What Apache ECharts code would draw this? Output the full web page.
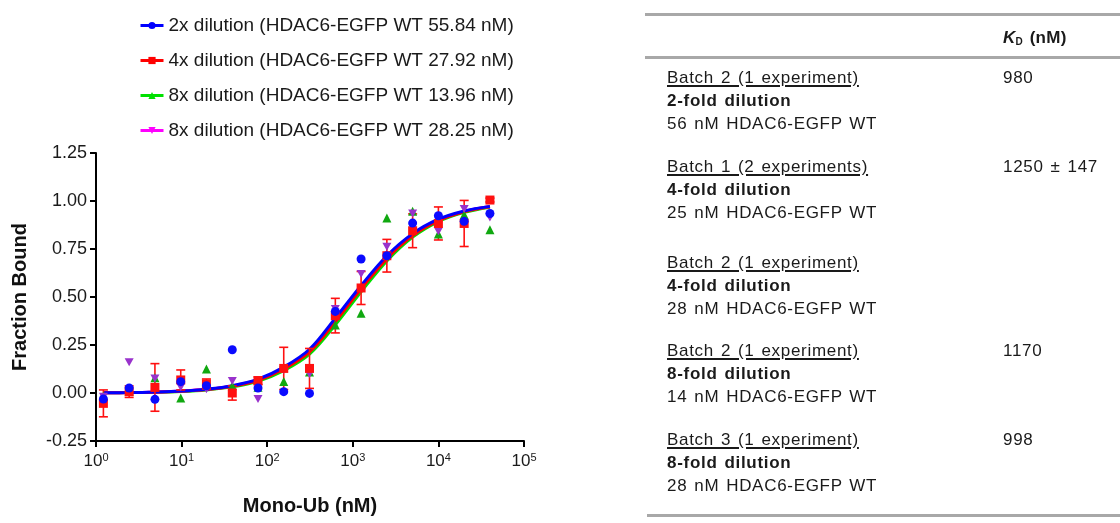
<!DOCTYPE html>
<html>
<head>
<meta charset="utf-8">
<script src="https://cdn.jsdelivr.net/npm/echarts@6/dist/echarts.min.js"></script>
<style>
  html, body { margin: 0; padding: 0; background: #fff; }
  #wrap { position: relative; width: 1120px; height: 523px; overflow: hidden; }
  #chart { position: absolute; left: 0; top: 0; width: 1120px; height: 523px; }
  #table { position: absolute; left: 0; top: 0; width: 1120px; height: 523px; pointer-events: none;
    font-family: Arial, "Liberation Sans", sans-serif; font-size: 17px; color: #1a1a1a;
    letter-spacing: 0.7px; word-spacing: 1.5px; }
  .rule { position: absolute; height: 3px; background: #a8a8a8; }
  .cell { position: absolute; line-height: 23px; white-space: nowrap; }
  .u { text-decoration: underline; text-decoration-thickness: 1.5px; text-underline-offset: 2px; }
  .kdhead { font-weight: bold; letter-spacing: 0.3px; }
  .kdhead sub { font-size: 10px; vertical-align: -2px; }
</style>
</head>
<body>
<div id="wrap">
  <div id="chart"></div>
  <div id="table"></div>
</div>
<script>
// Mono-Ub concentrations (nM), 2-fold dilution series
const concentrations = [1.22, 2.44, 4.88, 9.77, 19.5, 39.1, 78.1, 156, 312, 625, 1250, 2500, 5000, 10000, 20000, 40000];

const seriesNames = [
  '2x dilution (HDAC6-EGFP WT 55.84 nM)',
  '4x dilution (HDAC6-EGFP WT 27.92 nM)',
  '8x dilution (HDAC6-EGFP WT 13.96 nM)',
  '8x dilution (HDAC6-EGFP WT 28.25 nM)'
];

// measured fraction bound
const dil2x = [-0.031, 0.026, -0.033, 0.059, 0.038, 0.225, 0.026, 0.007, -0.002, 0.425, 0.698, 0.715, 0.885, 0.923, 0.894, 0.935];
const dil4x = [-0.054, 0.007, 0.029, 0.068, 0.047, 0.0, 0.064, 0.128, 0.128, 0.403, 0.547, 0.715, 0.845, 0.883, 0.883, 1.005];
const dil4xErr = [0.07, 0.03, 0.124, 0.052, 0.026, 0.037, 0.02, 0.11, 0.104, 0.09, 0.086, 0.085, 0.088, 0.086, 0.12, 0.01];
const dil8xA = [-0.015, 0.01, 0.08, -0.026, 0.125, 0.038, 0.03, 0.06, 0.11, 0.354, 0.415, 0.911, 0.946, 0.828, 0.929, 0.85];
const dil8xB = [-0.02, 0.16, 0.075, 0.03, 0.02, 0.062, -0.031, 0.12, 0.099, 0.437, 0.62, 0.762, 0.935, 0.842, 0.958, 0.914];

// fitted curves at the same concentrations
const fit2x = [0.001, 0.002, 0.005, 0.01, 0.02, 0.038, 0.072, 0.135, 0.228, 0.39, 0.56, 0.715, 0.83, 0.905, 0.948, 0.972];
const fit4x = [0.001, 0.002, 0.004, 0.009, 0.018, 0.035, 0.066, 0.125, 0.214, 0.372, 0.543, 0.70, 0.82, 0.898, 0.944, 0.97];
const fit8xA = [0.001, 0.002, 0.004, 0.008, 0.016, 0.032, 0.061, 0.116, 0.202, 0.355, 0.527, 0.688, 0.812, 0.893, 0.941, 0.968];
const fit8xB = [0.001, 0.002, 0.005, 0.01, 0.019, 0.037, 0.069, 0.13, 0.222, 0.38, 0.55, 0.707, 0.825, 0.9, 0.946, 0.971];

const yTicks = [-0.25, 0, 0.25, 0.5, 0.75, 1.0, 1.25];

// table contents
const batchLabels = ['Batch 2 (1 experiment)', 'Batch 1 (2 experiments)', 'Batch 2 (1 experiment)', 'Batch 2 (1 experiment)', 'Batch 3 (1 experiment)'];
const dilutionLabels = ['2-fold dilution', '4-fold dilution', '4-fold dilution', '8-fold dilution', '8-fold dilution'];
const proteinLabels = ['56 nM HDAC6-EGFP WT', '25 nM HDAC6-EGFP WT', '28 nM HDAC6-EGFP WT', '14 nM HDAC6-EGFP WT', '28 nM HDAC6-EGFP WT'];
const kdLabels = ['980', '1250 \u00b1 147', '', '1170', '998'];

const lineColors = ['#0000ff', '#ff0000', '#00e000', '#ff00ff'];
const pointColors = ['#0a0aff', '#ff1010', '#10a810', '#9932cc'];
const symbols = ['circle', 'rect', 'triangle', 'path://M0,0 L10,0 L5,9 Z'];
const fits = [fit2x, fit4x, fit8xA, fit8xB];
const points = [dil2x, dil4x, dil8xA, dil8xB];
const lineZ = [6, 5, 3, 4];

const FONT = 'Arial, "Liberation Sans", sans-serif';

const pairs = arr => concentrations.map((c, i) => [c, arr[i]]);

const series = [];
// fitted lines first (these give the legend icons)
seriesNames.forEach((name, k) => {
  series.push({
    name: name,
    type: 'line',
    data: pairs(fits[k]),
    smooth: 0.35,
    showSymbol: false,
    symbol: symbols[k],
    symbolSize: 8,
    z: lineZ[k],
    color: lineColors[k],
    lineStyle: { width: 3, color: lineColors[k] },
    itemStyle: { color: lineColors[k] },
    silent: true
  });
});
// error bars of the 4x series
series.push({
  type: 'custom',
  name: 'err4x',
  z: 7,
  silent: true,
  data: concentrations.map((c, i) => [c, dil4x[i] - dil4xErr[i], dil4x[i] + dil4xErr[i]]),
  encode: { x: 0, y: [1, 2] },
  renderItem: function (params, api) {
    const lo = api.coord([api.value(0), api.value(1)]);
    const hi = api.coord([api.value(0), api.value(2)]);
    const hw = 4.5;
    const st = { stroke: '#ff1010', lineWidth: 1.6 };
    return {
      type: 'group',
      children: [
        { type: 'line', shape: { x1: lo[0], y1: lo[1], x2: hi[0], y2: hi[1] }, style: st },
        { type: 'line', shape: { x1: lo[0] - hw, y1: lo[1], x2: lo[0] + hw, y2: lo[1] }, style: st },
        { type: 'line', shape: { x1: hi[0] - hw, y1: hi[1], x2: hi[0] + hw, y2: hi[1] }, style: st }
      ]
    };
  }
});
// measured points, drawn in the order green, purple, red, blue
[2, 3, 1, 0].forEach((k, j) => {
  series.push({
    name: seriesNames[k],
    type: 'scatter',
    data: pairs(points[k]),
    symbol: symbols[k],
    symbolSize: k === 3 ? [9, 8] : 9,
    z: 8 + j,
    itemStyle: { color: pointColors[k], opacity: 1 },
    silent: true
  });
});

const chart = echarts.init(document.getElementById('chart'), null, { renderer: 'canvas' });
chart.setOption({
  animation: false,
  backgroundColor: '#fff',
  textStyle: { fontFamily: FONT },
  legend: {
    data: seriesNames.map((n, k) => ({ name: n, itemStyle: { color: lineColors[k] }, lineStyle: { color: lineColors[k], width: 3 } })),
    orient: 'vertical',
    left: 139,
    top: 15,
    padding: 0,
    itemWidth: 23,
    itemHeight: 9,
    itemGap: 14,
    selectedMode: false,
    textStyle: { fontSize: 19, color: '#1a1a1a', fontFamily: FONT, lineHeight: 21 }
  },
  grid: { left: 96, top: 153, width: 428, height: 288, containLabel: false },
  xAxis: {
    type: 'log',
    logBase: 10,
    min: 1,
    max: 100000,
    name: 'Mono-Ub (nM)',
    nameLocation: 'middle',
    nameGap: 55,
    nameTextStyle: { fontSize: 20, fontWeight: 'bold', color: '#111', fontFamily: FONT },
    axisLine: { show: true, onZero: false, lineStyle: { color: '#000', width: 2 } },
    axisTick: { show: true, length: 6, lineStyle: { color: '#000', width: 2 } },
    minorTick: { show: false },
    splitLine: { show: false },
    axisLabel: {
      margin: 11,
      formatter: v => '{b|10}{s|' + Math.round(Math.log10(v)) + '}',
      rich: {
        b: { fontSize: 17, color: '#1a1a1a', fontFamily: FONT, lineHeight: 18 },
        s: { fontSize: 11, color: '#1a1a1a', fontFamily: FONT, lineHeight: 11, verticalAlign: 'top' }
      }
    }
  },
  yAxis: {
    type: 'value',
    min: yTicks[0],
    max: yTicks[yTicks.length - 1],
    interval: 0.25,
    name: 'Fraction Bound',
    nameLocation: 'middle',
    nameGap: 66,
    nameRotate: 90,
    nameTextStyle: { fontSize: 20, fontWeight: 'bold', color: '#111', fontFamily: FONT },
    axisLine: { show: true, lineStyle: { color: '#000', width: 2 } },
    axisTick: { show: true, length: 6, lineStyle: { color: '#000', width: 2 } },
    splitLine: { show: false },
    axisLabel: {
      margin: 9,
      fontSize: 18,
      color: '#1a1a1a',
      fontFamily: FONT,
      formatter: v => v.toFixed(2)
    }
  },
  series: series
});

// summary table on the right
const tbl = document.getElementById('table');
function addRule(left, top) {
  const d = document.createElement('div');
  d.className = 'rule';
  d.style.left = left + 'px';
  d.style.top = top + 'px';
  d.style.width = (1120 - left) + 'px';
  tbl.appendChild(d);
}
function addCell(html, left, top, cls) {
  const d = document.createElement('div');
  d.className = 'cell' + (cls ? ' ' + cls : '');
  d.style.left = left + 'px';
  d.style.top = top + 'px';
  d.innerHTML = html;
  tbl.appendChild(d);
  return d;
}
addRule(645, 13);
addRule(645, 56);
addRule(647, 514);
addCell('<i>K</i><sub>D</sub> (nM)', 1003, 26, 'kdhead');

const groupTops = [66, 155, 251, 339, 428];
batchLabels.forEach((b, i) => {
  const t = groupTops[i];
  addCell('<span class="u">' + b + '</span>', 667, t);
  addCell('<b>' + dilutionLabels[i] + '</b>', 667, t + 23);
  addCell(proteinLabels[i], 667, t + 46);
  if (kdLabels[i]) addCell(kdLabels[i], 1003, t);
});
</script>
</body>
</html>
